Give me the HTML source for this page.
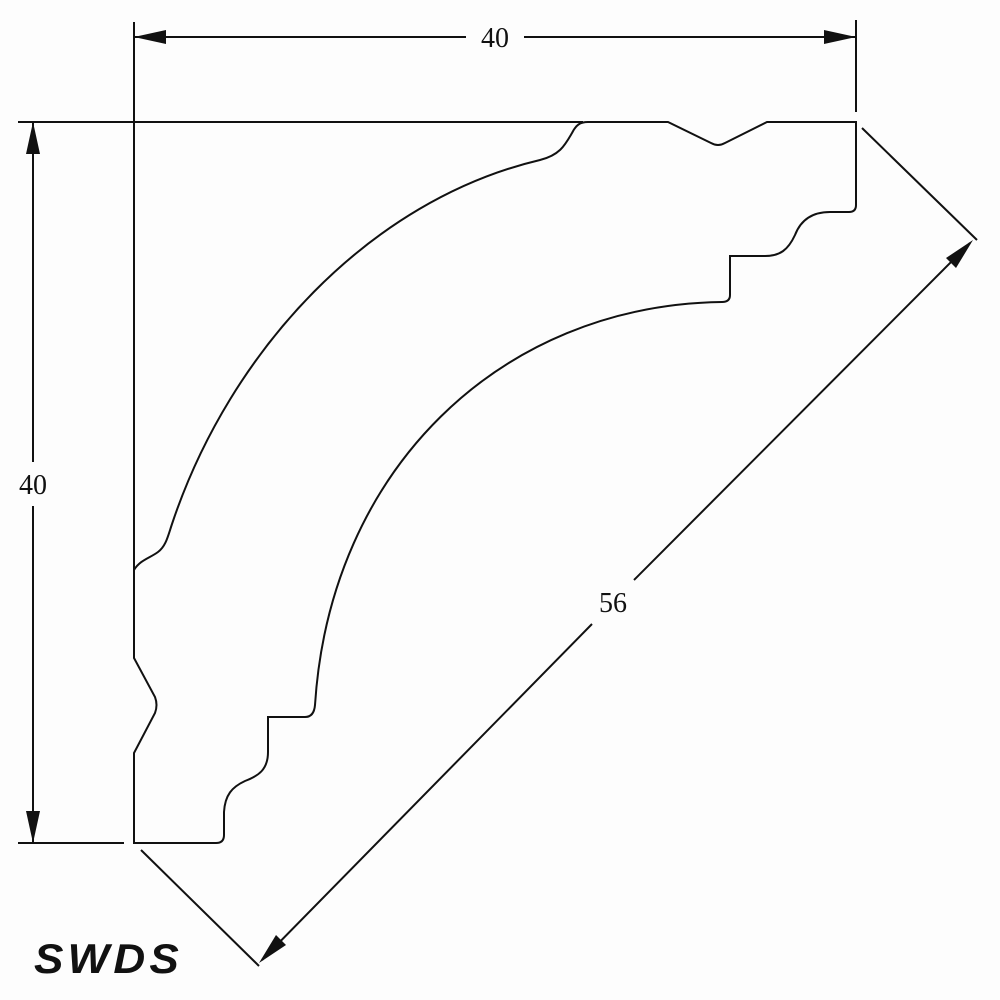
<!DOCTYPE html>
<html><head><style>body{margin:0;background:#fff}svg{display:block}</style></head><body>
<svg width="1000" height="1000" viewBox="0 0 1000 1000" xmlns="http://www.w3.org/2000/svg">
<rect width="1000" height="1000" fill="#fdfdfd"/>
<g fill="none" stroke="#111" stroke-width="2">
<line x1="134" y1="22" x2="134" y2="570"/>
<line x1="856" y1="20" x2="856" y2="112"/>
<line x1="18" y1="122" x2="583" y2="122"/>
<line x1="18" y1="843" x2="124" y2="843"/>
<line x1="862" y1="128" x2="977" y2="240"/>
<line x1="141" y1="850" x2="259" y2="966"/>
<line x1="134" y1="37" x2="466" y2="37"/>
<line x1="524" y1="37" x2="856" y2="37"/>
<line x1="33" y1="122" x2="33" y2="462"/>
<line x1="33" y1="506" x2="33" y2="843"/>
<line x1="970" y1="243" x2="634" y2="580"/>
<line x1="592" y1="624" x2="262" y2="960"/>
<path d="M134,570 C140,560 150,558 158,552 C166,546 168,536 172,524 C230,350 370,200 540,160 C560,155 565,145 572,133 C576,125 580,122 588,122 L668,122 L711,143 Q718,147 725,143 L767,122 L856,122 L856,205 Q856,212 849,212 L830,212 C810,212 800,222 795,235 C788,250 780,256 765,256 L730,256 L730,295 Q730,302 722,302 C500,305 330,470 315,705 Q314,717 305,717 L268,717 L268,752 C268,770 258,776 245,781 C232,787 225,795 224,812 L224,835 Q224,843 216,843 L134,843 L134,753 L155,713 Q158,705 155,697 L134,658 Z"/>
</g>
<g fill="#111">
<polygon points="134,37 166,30 166,44"/>
<polygon points="856,37 824,30 824,44"/>
<polygon points="33,122 26,154 40,154"/>
<polygon points="33,843 26,811 40,811"/>
<polygon points="973,240 946,258 956,268"/>
<polygon points="259,963 286,945 276,935"/>
</g>
<g font-family="Liberation Serif, serif" font-size="28" fill="#111" text-anchor="middle">
<text x="495" y="47">40</text>
<text x="33" y="494">40</text>
<text x="613" y="612">56</text>
</g>
<text x="34" y="973" font-family="Liberation Sans, sans-serif" font-weight="bold" font-style="italic" font-size="42" letter-spacing="4" fill="#111" textLength="149" lengthAdjust="spacingAndGlyphs">SWDS</text>
</svg>
</body></html>
